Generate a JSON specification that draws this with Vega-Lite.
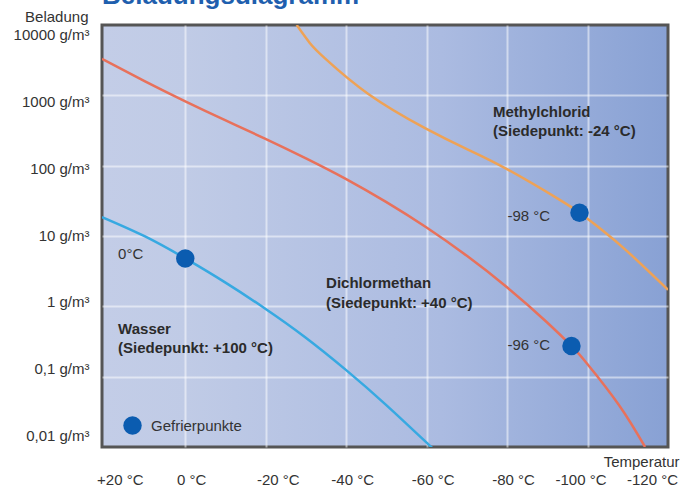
{
  "$schema": "https://vega.github.io/schema/vega-lite/v6.json",
  "width": 566,
  "height": 422,
  "autosize": {"type": "none"},
  "padding": {"left": 102, "top": 25, "right": 13, "bottom": 46},
  "background": "#ffffff",
  "title": {
    "text": "Beladungsdiagramm",
    "anchor": "start",
    "frame": "group",
    "fontSize": 26,
    "fontWeight": "bold",
    "color": "#1f5fae",
    "font": "Liberation Sans",
    "offset": -21,
    "baseline": "alphabetic"
  },
  "config": {
    "font": "Liberation Sans",
    "view": {
      "stroke": "#555555",
      "strokeWidth": 3,
      "fill": {
        "gradient": "linear",
        "x1": 0, "y1": 0, "x2": 1, "y2": 0,
        "stops": [
          {"offset": 0, "color": "#c3cde7"},
          {"offset": 0.15, "color": "#c0cbe6"},
          {"offset": 0.6, "color": "#abbbe1"},
          {"offset": 1, "color": "#88a1d4"}
        ]
      }
    }
  },
  "datasets": {
    "kurven": [
      {"stoff": "Wasser", "t": 20.7, "v": 18.6},
      {"stoff": "Wasser", "t": 10, "v": 9.87},
      {"stoff": "Wasser", "t": 0, "v": 4.8},
      {"stoff": "Wasser", "t": -9.9, "v": 2.19},
      {"stoff": "Wasser", "t": -19.8, "v": 0.933},
      {"stoff": "Wasser", "t": -29.8, "v": 0.364},
      {"stoff": "Wasser", "t": -40, "v": 0.124},
      {"stoff": "Wasser", "t": -49.9, "v": 0.0398},
      {"stoff": "Wasser", "t": -59.8, "v": 0.0118},
      {"stoff": "Wasser", "t": -61.1, "v": 0.01},
      {"stoff": "Dichlormethan", "t": 20.7, "v": 3290},
      {"stoff": "Dichlormethan", "t": 10, "v": 1578},
      {"stoff": "Dichlormethan", "t": 0, "v": 820},
      {"stoff": "Dichlormethan", "t": -9.9, "v": 443},
      {"stoff": "Dichlormethan", "t": -19.8, "v": 243},
      {"stoff": "Dichlormethan", "t": -30, "v": 127},
      {"stoff": "Dichlormethan", "t": -40, "v": 64.4},
      {"stoff": "Dichlormethan", "t": -49.9, "v": 30.5},
      {"stoff": "Dichlormethan", "t": -59.8, "v": 13.4},
      {"stoff": "Dichlormethan", "t": -70, "v": 5.22},
      {"stoff": "Dichlormethan", "t": -79.9, "v": 1.88},
      {"stoff": "Dichlormethan", "t": -89.9, "v": 0.594},
      {"stoff": "Dichlormethan", "t": -96, "v": 0.273},
      {"stoff": "Dichlormethan", "t": -99.8, "v": 0.155},
      {"stoff": "Dichlormethan", "t": -107.8, "v": 0.0395},
      {"stoff": "Dichlormethan", "t": -114.3, "v": 0.01},
      {"stoff": "Methylchlorid", "t": -27.7, "v": 10000},
      {"stoff": "Methylchlorid", "t": -31, "v": 5510},
      {"stoff": "Methylchlorid", "t": -34.8, "v": 3327},
      {"stoff": "Methylchlorid", "t": -45.5, "v": 1047},
      {"stoff": "Methylchlorid", "t": -59.6, "v": 342},
      {"stoff": "Methylchlorid", "t": -70, "v": 172},
      {"stoff": "Methylchlorid", "t": -80.2, "v": 87.9},
      {"stoff": "Methylchlorid", "t": -93.1, "v": 32.7},
      {"stoff": "Methylchlorid", "t": -98, "v": 21.4},
      {"stoff": "Methylchlorid", "t": -103.6, "v": 12.2},
      {"stoff": "Methylchlorid", "t": -110.1, "v": 5.9},
      {"stoff": "Methylchlorid", "t": -120, "v": 1.72}
    ],
    "gefrierpunkte": [
      {"art": "Gefrierpunkte", "stoff": "Wasser", "t": 0, "v": 4.8},
      {"art": "Gefrierpunkte", "stoff": "Dichlormethan", "t": -96, "v": 0.273},
      {"art": "Gefrierpunkte", "stoff": "Methylchlorid", "t": -98, "v": 21.4}
    ],
    "namen": [
      {"text": "Methylchlorid", "t": -76.5, "v": 579},
      {"text": "(Siedepunkt: -24 °C)", "t": -76.5, "v": 311},
      {"text": "Dichlormethan", "t": -35, "v": 2.15},
      {"text": "(Siedepunkt: +40 °C)", "t": -35, "v": 1.11},
      {"text": "Wasser", "t": 16.7, "v": 0.476},
      {"text": "(Siedepunkt: +100 °C)", "t": 16.7, "v": 0.255}
    ],
    "nullgrad": [
      {"text": "0°C", "t": 16.7, "v": 5.55}
    ],
    "temperaturen": [
      {"text": "-98 °C", "t": -90.7, "v": 19.2},
      {"text": "-96 °C", "t": -90.7, "v": 0.282}
    ]
  },
  "encoding": {
    "x": {
      "field": "t",
      "type": "quantitative",
      "scale": {"domain": [-120, 20.7], "reverse": true, "nice": false, "zero": false},
      "axis": {
        "values": [20, 0, -20, -40, -60, -80, -100, -120],
        "labelExpr": "(datum.value > 0 ? '+' : '') + datum.value + ' °C'",
        "title": "Temperatur",
        "grid": true,
        "gridColor": "#ffffff",
        "gridOpacity": {"expr": "datum.value == 20 || datum.value == -120 ? 0 : 0.5"},
        "gridWidth": 2,
        "domain": false,
        "ticks": false,
        "labelPadding": 25,
        "labelFontSize": 15,
        "labelColor": "#333333",
        "labelOverlap": false,
        "labelFlush": false,
        "labelOffset": {"expr": "datum.value == 20 ? 15 : datum.value == 0 ? 6 : datum.value == -20 ? 12 : datum.value == -100 ? -7 : datum.value == -120 ? -16 : 6"},
        "titleX": 577,
        "titleY": 14,
        "titleAlign": "right",
        "titleBaseline": "middle",
        "titleFontWeight": "normal",
        "titleFontSize": 15,
        "titleColor": "#333333"
      }
    },
    "y": {
      "field": "v",
      "type": "quantitative",
      "scale": {"type": "log", "domain": [0.01, 10000], "nice": false},
      "axis": {
        "values": [0.01, 0.1, 1, 10, 100, 1000, 10000],
        "labelExpr": "replace(toString(datum.value), '.', ',') + ' g/m³'",
        "title": "Beladung",
        "titleAngle": 0,
        "titleX": -14,
        "titleY": -9,
        "titleAlign": "right",
        "titleBaseline": "middle",
        "titleFontWeight": "normal",
        "titleFontSize": 15,
        "titleColor": "#333333",
        "grid": true,
        "gridColor": "#ffffff",
        "gridOpacity": {"expr": "datum.value == 10000 || datum.value == 0.01 ? 0 : 0.5"},
        "gridWidth": 2,
        "domain": false,
        "ticks": false,
        "labelPadding": 13,
        "labelFontSize": 15,
        "labelColor": "#333333",
        "labelOverlap": false,
        "labelOffset": {"expr": "3.4 * log(datum.value) / LN10 - 4.4"}
      }
    }
  },
  "layer": [
    {
      "data": {"values": [{"bereich": "über 0 °C"}]},
      "mark": {"type": "rect", "fill": "#ffffff", "opacity": 0.55},
      "encoding": {
        "x": {"datum": 0, "type": "quantitative"},
        "x2": {"datum": 20.3},
        "y": {"datum": 9500, "type": "quantitative"},
        "y2": {"datum": 0.0105}
      }
    },
    {
      "data": {"name": "kurven"},
      "mark": {"type": "line", "strokeWidth": 2.5, "interpolate": "natural", "clip": true},
      "encoding": {
        "stroke": {
          "field": "stoff",
          "type": "nominal",
          "scale": {"domain": ["Wasser", "Dichlormethan", "Methylchlorid"], "range": ["#37a9e1", "#e8715b", "#eea256"]},
          "legend": null
        }
      }
    },
    {
      "data": {"name": "gefrierpunkte"},
      "mark": {"type": "point", "filled": true, "size": 340, "opacity": 1, "strokeWidth": 0},
      "encoding": {
        "fill": {
          "field": "art",
          "type": "nominal",
          "scale": {"range": ["#0b5cb0"]},
          "legend": {
            "orient": "none",
            "legendX": 21,
            "legendY": 391,
            "title": null,
            "symbolSize": 340,
            "symbolType": "circle",
            "symbolStrokeWidth": 0,
            "labelFontSize": 15,
            "labelColor": "#333333",
            "labelOffset": 9,
            "padding": 0
          }
        }
      }
    },
    {
      "data": {"name": "namen"},
      "mark": {"type": "text", "align": "left", "baseline": "middle", "fontWeight": "bold", "fontSize": 15, "color": "#2b2b2b"},
      "encoding": {"text": {"field": "text"}}
    },
    {
      "data": {"name": "nullgrad"},
      "mark": {"type": "text", "align": "left", "baseline": "middle", "fontSize": 15, "color": "#333333"},
      "encoding": {"text": {"field": "text"}}
    },
    {
      "data": {"name": "temperaturen"},
      "mark": {"type": "text", "align": "right", "baseline": "middle", "fontSize": 15, "color": "#333333"},
      "encoding": {"text": {"field": "text"}}
    }
  ]
}
